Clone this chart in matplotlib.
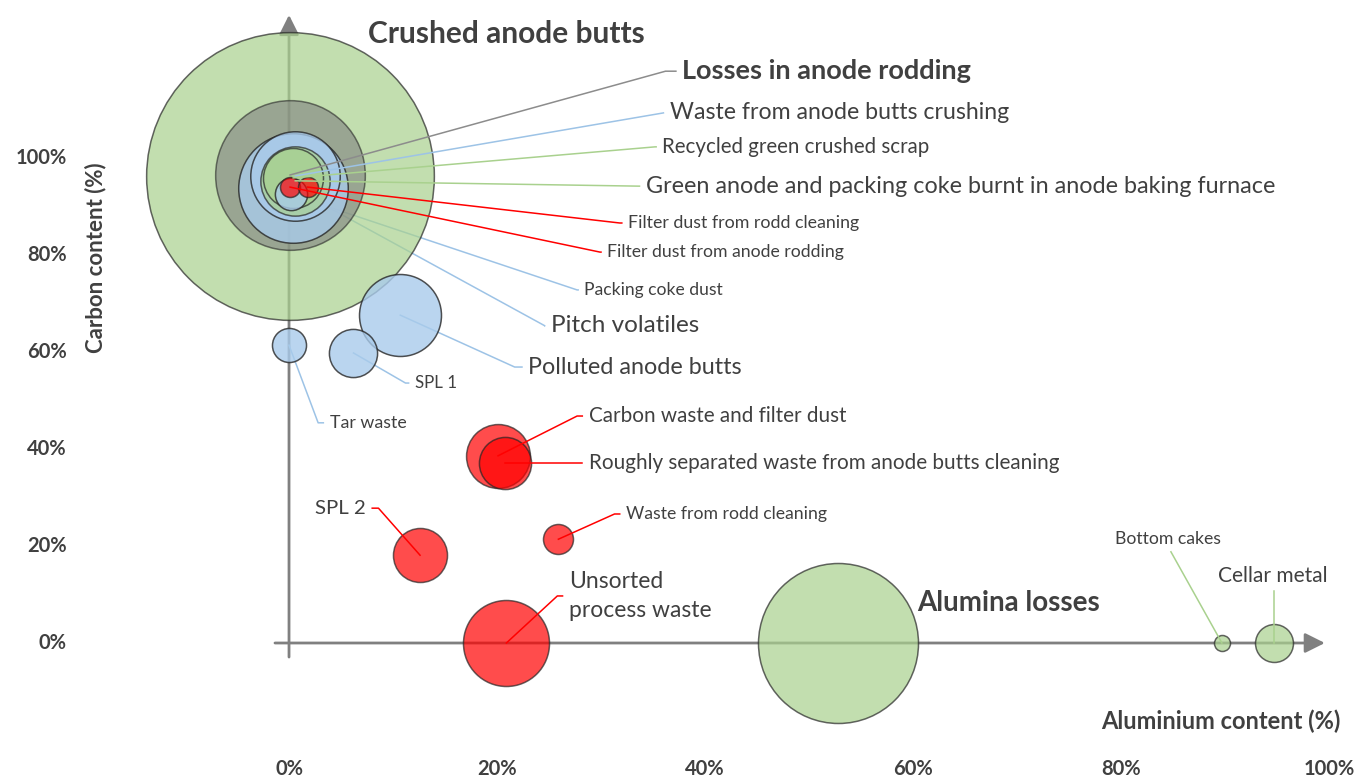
import matplotlib
matplotlib.use("Agg")
import matplotlib.pyplot as plt
import numpy as np

plt.rcParams['font.family'] = ['Lato', 'DejaVu Sans']

#---------------- data: aluminium content (%), carbon content (%), amount (bubble value)
names = ["Crushed anode butts", "Losses in anode rodding", "Pitch volatiles",
         "Waste from anode butts crushing", "Green anode and packing coke burnt in anode baking furnace",
         "Recycled green crushed scrap", "Packing coke dust",
         "Filter dust from anode rodding", "Filter dust from rodd cleaning",
         "Polluted anode butts", "SPL 1", "Tar waste",
         "Carbon waste and filter dust", "Roughly separated waste from anode butts cleaning",
         "SPL 2", "Waste from rodd cleaning", "Unsorted\nprocess waste",
         "Alumina losses", "Bottom cakes", "Cellar metal"]
aluminium = [0.1, 0.1, 0.4, 0.6, 0.6, 0.4, 0.2, 0.1, 1.8,
             10.7, 6.2, 0.0, 20.1, 20.8, 12.6, 25.9, 20.9, 52.8, 89.7, 94.7]
carbon = [96.3, 96.5, 93.8, 96.3, 95.3, 95.9, 92.5, 94.0, 94.0,
          67.6, 59.8, 61.4, 38.6, 37.1, 18.1, 21.4, 0.0, 0.0, 0.0, 0.0]
amount = [207, 56, 30, 20, 12, 9, 2.6, 1.0, 1.0,
          16.8, 5.8, 2.9, 10.2, 6.8, 7.3, 2.25, 18.5, 64, 0.64, 3.6]
group = ["green", "gray", "blue", "blue", "green", "green", "blue", "red", "red",
         "blue", "blue", "blue", "red", "red", "red", "red", "red", "green", "green", "green"]

x_ticks = [0, 20, 40, 60, 80, 100]
y_ticks = [0, 20, 40, 60, 80, 100]

#---------------- styles
fill = {"green": ("#a9d18e", 0.7), "gray": ("#7f7f7f", 0.6),
        "blue": ("#a9cbeb", 0.8), "red": ("#ff0000", 0.7)}
line_col = {"green": "#a9d18e", "gray": "#8c8c8c", "blue": "#9dc3e6", "red": "#ff0000"}
txt = "#404040"

# label layout: elbow point of leader (None = no leader), text position, size, weight, align
labels = [
    (None, (7.6, 125.6), 21.5, "bold", "left"),
    ((36.2, 117.9), (37.8, 117.9), 19.5, "bold", "left"),
    ((24.6, 65.4), (25.2, 65.4), 17.5, "normal", "left"),
    ((36.0, 109.3), (36.6, 109.3), 16.7, "normal", "left"),
    ((33.6, 94.2), (34.3, 94.2), 16.8, "normal", "left"),
    ((35.2, 102.3), (35.9, 102.3), 14.8, "normal", "left"),
    ((27.7, 72.8), (28.4, 72.8), 12.6, "normal", "left"),
    ((29.9, 80.6), (30.6, 80.6), 12.7, "normal", "left"),
    ((31.8, 86.6), (32.6, 86.6), 12.8, "normal", "left"),
    ((21.7, 56.9), (23.0, 56.9), 16.8, "normal", "left"),
    ((11.2, 53.6), (12.1, 53.6), 12.2, "normal", "left"),
    ((2.8, 45.4), (3.9, 45.4), 12.8, "normal", "left"),
    ((27.7, 46.8), (28.8, 46.8), 14.9, "normal", "left"),
    ((27.7, 37.1), (28.8, 37.1), 14.9, "normal", "left"),
    ((8.6, 27.8), (7.4, 27.8), 14.7, "normal", "right"),
    ((31.3, 26.6), (32.4, 26.6), 12.7, "normal", "left"),
    ((25.8, 9.7), (26.9, 9.7), 16.5, "normal", "left"),
    (None, (60.4, 8.2), 20, "bold", "left"),
    ((84.8, 18.8), (84.5, 21.4), 12.7, "normal", "center"),
    ((94.7, 10.7), (94.6, 13.8), 15, "normal", "center"),
]
behind = {"Pitch volatiles", "Packing coke dust", "Polluted anode butts", "SPL 1", "Tar waste"}

fig = plt.figure(figsize=(13.57, 7.77), dpi=100)
ax = fig.add_axes([0, 0, 1, 1])
ax.set_xlim(-27.79, 102.69)
ax.set_ylim(-27.63, 132.58)
ax.axis("off")

#---------------- axes with arrows through the origin
arrow = dict(arrowstyle="-|>,head_length=0.6,head_width=0.3", color="#808080",
             lw=2.0, shrinkA=0, shrinkB=0, mutation_scale=20)
ax.annotate("", xy=(99.6, 0), xytext=(-1.35, 0), arrowprops=arrow, zorder=1)
ax.annotate("", xy=(0, 129.5), xytext=(0, -2.9), arrowprops=arrow, zorder=1)

#---------------- bubbles
for i in range(len(names)):
    c, a = fill[group[i]]
    ax.scatter(aluminium[i], carbon[i], s=207.36 * amount[i], color=c, alpha=a,
               edgecolors="#262626", linewidths=1.1, zorder=3 + i * 0.01)

#---------------- leader lines and labels
for i, (elbow, tpos, size, weight, ha) in enumerate(labels):
    if elbow is not None:
        if ha == "left":
            end = tpos[0] - 0.6
        elif ha == "right":
            end = tpos[0] + 0.6
        else:
            end = elbow[0]
        if ha == "center":
            xs = [aluminium[i], elbow[0]]
            ys = [carbon[i], elbow[1]]
        else:
            xs = [aluminium[i], elbow[0], end]
            ys = [carbon[i], elbow[1], elbow[1]]
        z = 2 if names[i] in behind else 5
        ax.plot(xs, ys, color=line_col[group[i]], lw=1.1, zorder=z)
    ax.text(tpos[0], tpos[1], names[i], fontsize=size, fontweight=weight, color=txt,
            ha=ha, va="center", zorder=6, linespacing=1.5)

#---------------- tick labels and axis titles
for v in x_ticks:
    ax.text(v, -26.0, f"{v}%", ha="center", va="center", fontsize=14.5, fontweight="bold", color=txt)
for v in y_ticks:
    ax.text(-21.4, v, f"{v}%", ha="right", va="center", fontsize=14.5, fontweight="bold", color=txt)
ax.text(89.6, -16.2, "Aluminium content (%)", ha="center", va="center",
        fontsize=17, fontweight="bold", color=txt)
ax.text(-18.6, 79.4, "Carbon content (%)", ha="center", va="center", rotation=90,
        fontsize=16, fontweight="bold", color=txt)

fig.savefig("out.png", dpi=100)
